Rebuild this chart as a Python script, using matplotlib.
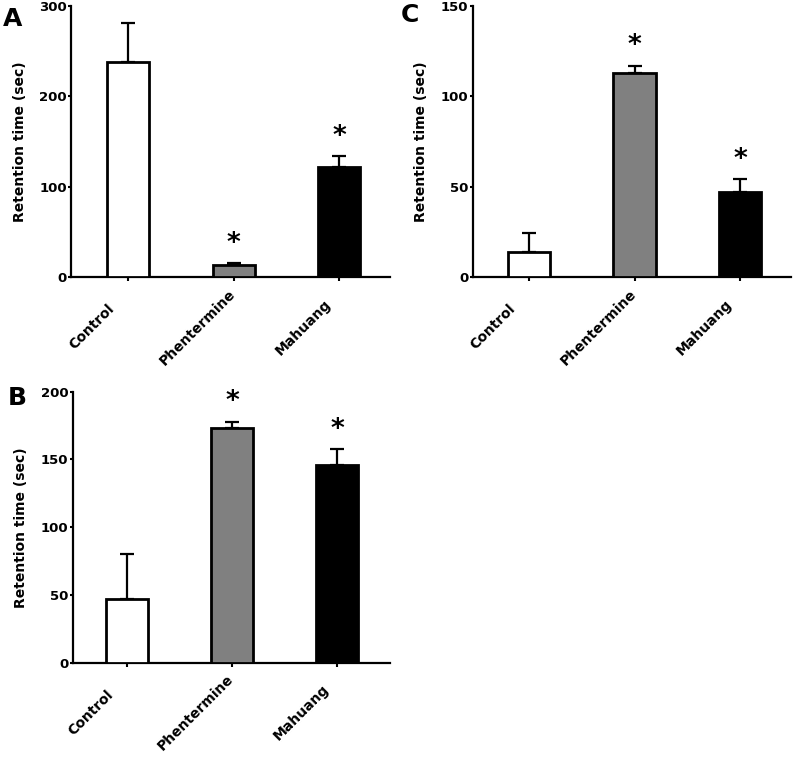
import matplotlib
matplotlib.use("Agg")
import matplotlib.pyplot as plt
from matplotlib.transforms import ScaledTranslation

categories = ["Control", "Phentermine", "Mahuang"]
bar_colors = ["white", "#808080", "black"]

a_means = [238, 13, 122]
a_err = [43, 2.5, 12]
a_sig = [False, True, True]
a_ticks = [0, 100, 200, 300]

b_means = [47, 173, 146]
b_err = [33, 5, 11.5]
b_sig = [False, True, True]
b_ticks = [0, 50, 100, 150, 200]

c_means = [14, 113, 47]
c_err = [10.5, 4, 7]
c_sig = [False, True, True]
c_ticks = [0, 50, 100, 150]

plt.rcParams['font.family'] = ['DejaVu Sans']

fig = plt.figure(figsize=(7.93, 7.57), dpi=100)
W, H = 793, 757


def make_axes(l, r, t, b):
    return fig.add_axes([l / W, 1 - b / H, (r - l) / W, (b - t) / H])


def panel(ax, means, errs, sig, ticks, xlim, lab_x):
    x = list(range(len(categories)))
    ax.bar(x, means, width=0.4, color=bar_colors, edgecolor="black",
           linewidth=2.0, zorder=3)
    ax.errorbar(x, means, yerr=[[0] * len(errs), errs], fmt="none",
                ecolor="black", elinewidth=1.6, capsize=4.7, capthick=1.6,
                zorder=2)
    for i, s in enumerate(sig):
        if s:
            ax.annotate("*", xy=(i, means[i] + errs[i]), xytext=(0, 14),
                        textcoords="offset points", ha="center", va="center",
                        fontsize=19, fontweight="bold")
    ax.set_ylim(ticks[0], ticks[-1])
    ax.set_yticks(ticks)
    ax.set_yticklabels([str(t) for t in ticks], fontsize=9.5, fontweight="bold")
    ax.set_xlim(*xlim)
    ax.set_xticks(x)
    ax.set_xticklabels(categories, rotation=45, ha="center", va="center",
                       rotation_mode="anchor", fontsize=10, fontweight="bold")
    ax.tick_params(axis="x", length=3, width=1.5, pad=0)
    ax.tick_params(axis="y", length=2.5, width=1.5, pad=0.5)
    off = ScaledTranslation(-36 / 100, -46 / 100, fig.dpi_scale_trans)
    for lab in ax.get_xticklabels():
        lab.set_transform(lab.get_transform() + off)
    for sp in ["top", "right"]:
        ax.spines[sp].set_visible(False)
    for sp in ["left", "bottom"]:
        ax.spines[sp].set_linewidth(1.6)
    ax.set_ylabel("Retention time (sec)", fontsize=10, fontweight="bold")
    ax.yaxis.set_label_coords(lab_x, 0.5)


axA = make_axes(71, 390, 6, 277)
panel(axA, a_means, a_err, a_sig, a_ticks, (-0.54, 2.48), -0.138)

axC = make_axes(472.7, 790.7, 6, 277)
panel(axC, c_means, c_err, c_sig, c_ticks, (-0.534, 2.48), -0.14)

axB = make_axes(72.7, 390, 391.7, 662.7)
panel(axB, b_means, b_err, b_sig, b_ticks, (-0.513, 2.5), -0.141)

fig.text(3 / W, 1 - 7 / H, "A", fontsize=18, fontweight="bold", va="top", ha="left")
fig.text(401 / W, 1 - 3 / H, "C", fontsize=18, fontweight="bold", va="top", ha="left")
fig.text(8 / W, 1 - 386 / H, "B", fontsize=18, fontweight="bold", va="top", ha="left")

fig.savefig("out.png", dpi=100)
